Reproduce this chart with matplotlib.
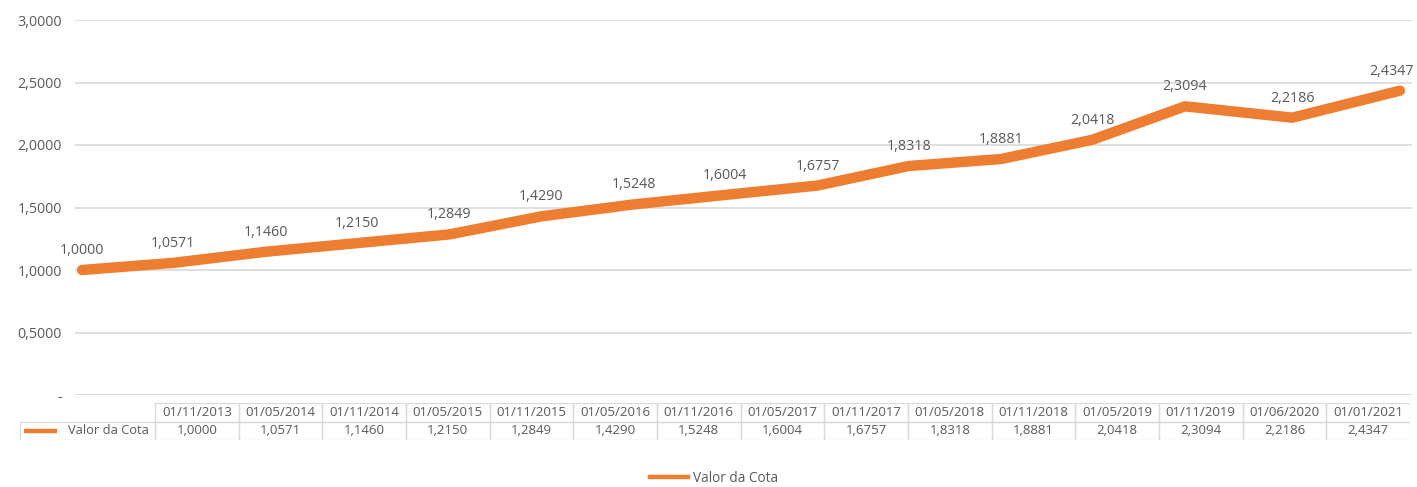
import matplotlib
matplotlib.use("Agg")
import matplotlib.pyplot as plt
import pandas as pd
from matplotlib.lines import Line2D
from matplotlib.patches import Rectangle
from matplotlib.ticker import FuncFormatter

datas = ["01/11/2013", "01/05/2014", "01/11/2014", "01/05/2015", "01/11/2015",
         "01/05/2016", "01/11/2016", "01/05/2017", "01/11/2017", "01/05/2018",
         "01/11/2018", "01/05/2019", "01/11/2019", "01/06/2020", "01/01/2021"]
cota = [1.0000, 1.0571, 1.1460, 1.2150, 1.2849, 1.4290, 1.5248, 1.6004,
        1.6757, 1.8318, 1.8881, 2.0418, 2.3094, 2.2186, 2.4347]
serie = "Valor da Cota"

laranja = "#ED7D31"
cinza_txt = "#595959"
cinza_grade = "#D9D9D9"

W, H = 1417, 487
fig = plt.figure(figsize=(W / 100, H / 100), dpi=100)
plt.rcParams["font.family"] = ["Open Sans", "DejaVu Sans"]


def fmt(v):
    return f"{v:.4f}".replace(".", ",")


# main line chart on a date axis
dt = pd.to_datetime(datas, format="%d/%m/%Y")
ax = fig.add_axes([75 / W, 1 - 395 / H, (1412 - 75) / W, (395 - 20) / H])
ax.plot(dt, cota, color=laranja, lw=7.5, solid_joinstyle="round",
        solid_capstyle="round", zorder=3)
for d, v in zip(dt, cota):
    ultimo = d == dt[-1]
    ax.annotate(fmt(v), (d, v), xytext=(10 if ultimo else 0, 14),
                textcoords="offset points", ha="right" if ultimo else "center",
                va="center", fontsize=10.3, color=cinza_txt, annotation_clip=False)

ax.set_xlim(dt[0] - pd.Timedelta(days=14), dt[-1] + pd.Timedelta(days=24))
ax.set_ylim(0, 3)
ax.set_yticks([0, 0.5, 1, 1.5, 2, 2.5, 3])
ax.yaxis.set_major_formatter(FuncFormatter(lambda v, p: "-" if v == 0 else fmt(v)))
ax.tick_params(axis="y", length=0, pad=9.5, labelsize=10.3, labelcolor=cinza_txt)
ax.set_xticks([])
ax.grid(axis="y", color=cinza_grade, lw=1.2)
ax.set_axisbelow(True)
for s in ax.spines.values():
    s.set_visible(False)
ax.axhline(0, color=cinza_grade, lw=1.2, zorder=1)

# data table under the chart (x in pixels from its left edge, 2 rows)
x0, x1, xr = 20, 1410, 155
tax = fig.add_axes([x0 / W, 1 - 440 / H, (x1 - x0) / W, (440 - 403) / H])
tax.axis("off")
tax.set_xlim(0, x1 - x0)
tax.set_ylim(0, 2)
cw = (x1 - xr) / len(datas)
rw = xr - x0
tax.add_patch(Rectangle((0, 0), rw, 1, fill=False, ec=cinza_grade, lw=0.9))
tax.text(rw - 6, 0.5, serie, ha="right", va="center", fontsize=9.3, color=cinza_txt)
tax.add_line(Line2D([4, 37], [0.5, 0.5], color=laranja, lw=3.2,
                    solid_capstyle="butt"))
for j, (d, v) in enumerate(zip(datas, cota)):
    cx = rw + j * cw
    for row, txt in ((1, d), (0, fmt(v))):
        tax.add_patch(Rectangle((cx, row), cw, 1, fill=False, ec=cinza_grade, lw=0.9))
        tax.text(cx + cw / 2, row + 0.5, txt, ha="center", va="center",
                 fontsize=9.5, color=cinza_txt)

# legend at the bottom
leg = fig.legend([Line2D([], [], color=laranja, lw=3.2)], [serie],
                 loc="center", bbox_to_anchor=(714 / W, 1 - 478 / H),
                 frameon=False, fontsize=9.8, handlelength=2.8, handletextpad=0.3)
for t in leg.get_texts():
    t.set_color(cinza_txt)

fig.savefig("out.png", dpi=100, facecolor="white")
